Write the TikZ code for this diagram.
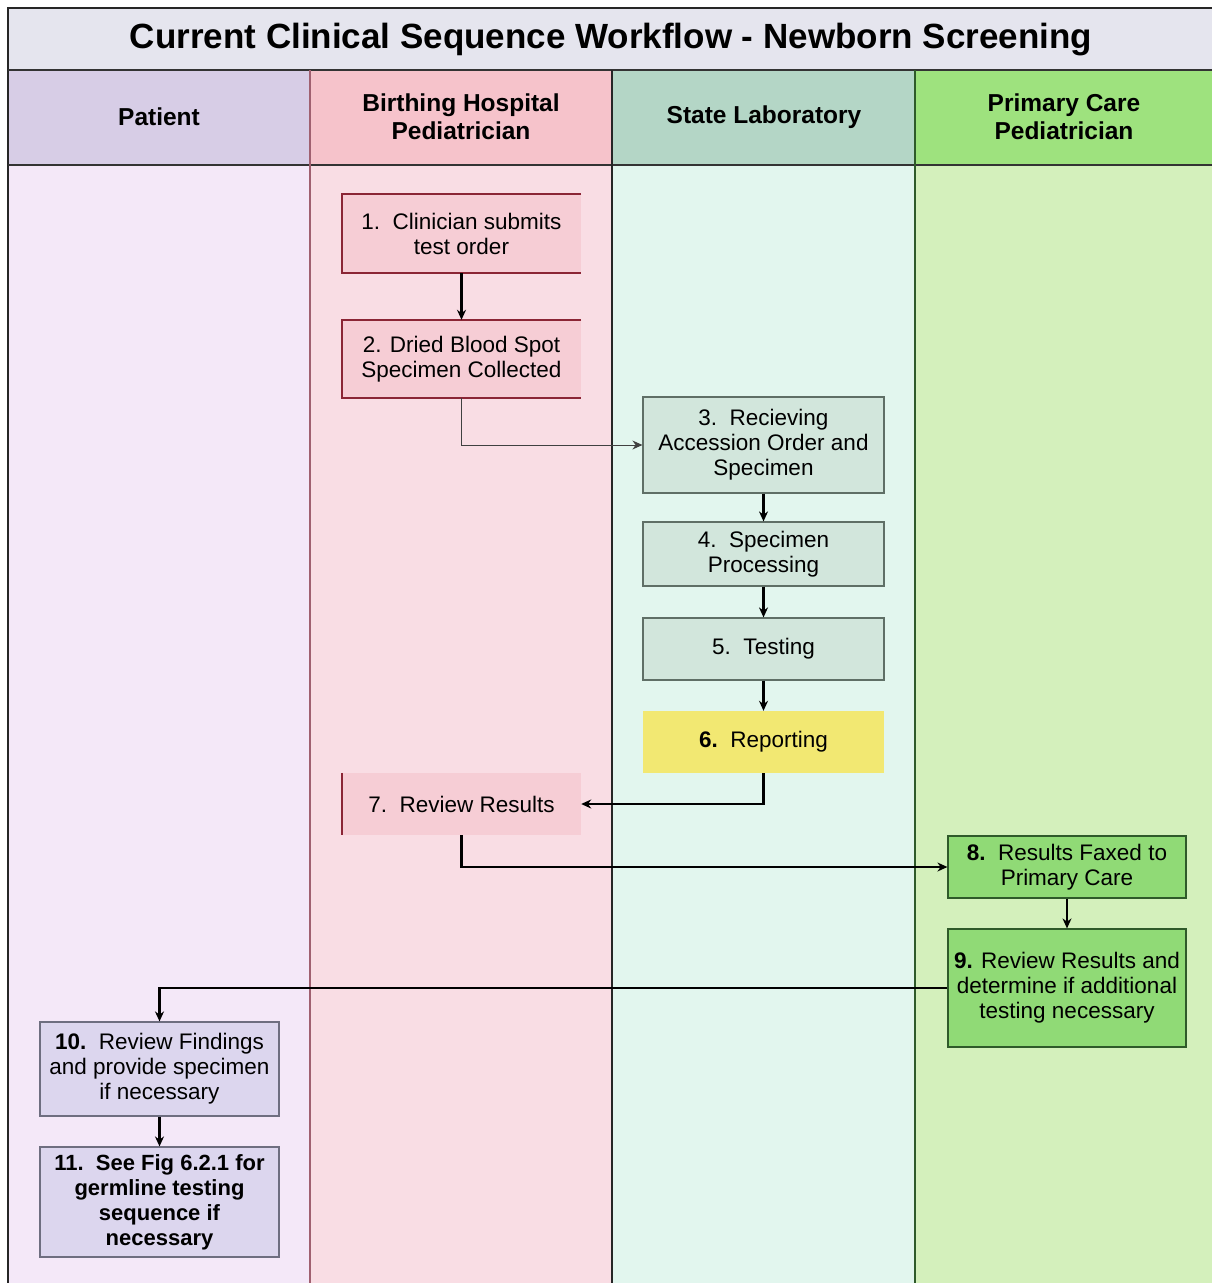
\documentclass[tikz,border=0pt]{standalone}
\usepackage{fontspec}
\setmainfont{Liberation Sans}
\usetikzlibrary{arrows.meta}

% lane and box colours
\definecolor{titlebg}{HTML}{E5E5EE}
\definecolor{patHead}{HTML}{D7CDE6}
\definecolor{patBody}{HTML}{F4E8F8}
\definecolor{hospHead}{HTML}{F6C3CB}
\definecolor{hospBody}{HTML}{F9DDE4}
\definecolor{labHead}{HTML}{B4D6C6}
\definecolor{labBody}{HTML}{E2F6EE}
\definecolor{pcpHead}{HTML}{9EE27E}
\definecolor{pcpBody}{HTML}{D4F0BC}
\definecolor{hospBox}{HTML}{F6CDD5}
\definecolor{hospLine}{HTML}{8B2535}
\definecolor{labBox}{HTML}{D2E6DC}
\definecolor{labLine}{HTML}{5F6F66}
\definecolor{repBox}{HTML}{F2E872}
\definecolor{pcpBox}{HTML}{90DA76}
\definecolor{pcpLine}{HTML}{2F5A2A}
\definecolor{patBox}{HTML}{DCD6EE}
\definecolor{patLine}{HTML}{6E6E80}
\definecolor{sepHosp}{HTML}{A06070}

\tikzset{
  stepbox/.style={minimum width=239pt, inner sep=2pt, align=center,
    font=\fontsize{22.5}{25}\selectfont},
  hospnode/.style={stepbox, fill=hospBox},
  labnode/.style={stepbox, fill=labBox, draw=labLine, line width=1.2pt},
  repnode/.style={stepbox, fill=repBox},
  pcpnode/.style={stepbox, fill=pcpBox, draw=pcpLine, line width=1.2pt},
  patnode/.style={stepbox, fill=patBox, draw=patLine, line width=1.2pt},
  flow/.style={draw=black, line width=2.2pt, -{Stealth[length=10pt,width=9pt]}},
  thinflow/.style={draw=black!75, line width=1pt, -{Stealth[length=10pt,width=9pt]}},
  lanehead/.style={font=\fontsize{24.5}{28}\selectfont\bfseries, align=center},
}

\begin{document}
\begin{tikzpicture}[x=1pt,y=-1pt]
\useasboundingbox (0,0) rectangle (1212,1283);
\fill[white] (0,0) rectangle (1212,1283);

% title band
\fill[titlebg] (8,8) rectangle (1212,70);
\node[font=\fontsize{35}{40}\selectfont\bfseries] (title) at (611,40)
  {Current Clinical Sequence Workflow - Newborn Screening};

% lane bodies
\fill[patBody]  (8,165)   rectangle (310,1283);
\fill[hospBody] (310,165) rectangle (612,1283);
\fill[labBody]  (612,165) rectangle (915,1283);
\fill[pcpBody]  (915,165) rectangle (1212,1283);

% lane headers
\fill[patHead]  (8,70)   rectangle (310,165);
\fill[hospHead] (310,70) rectangle (612,165);
\fill[labHead]  (612,70) rectangle (915,165);
\fill[pcpHead]  (915,70) rectangle (1212,165);

\node[lanehead] (hPat)  at (159,117) {Patient};
\node[lanehead] (hHosp) at (461,117) {Birthing Hospital\\Pediatrician};
\node[lanehead] (hLab)  at (764,117) {State Laboratory};
\node[lanehead] (hPcp)  at (1064,117) {Primary Care\\Pediatrician};

% frame and lane separators
\draw[line width=2pt, black!85] (1212,8) -- (8,8) -- (8,1283);
\draw[line width=2.5pt, black!80] (8,70) -- (1212,70);
\draw[line width=2.5pt, black!80] (8,165) -- (1212,165);
\draw[line width=2.5pt, sepHosp] (310,70) -- (310,1283);
\draw[line width=2pt, black!85] (612,70) -- (612,1283);
\draw[line width=2pt, pcpLine] (915,70) -- (915,1283);

% steps
\node[hospnode, minimum height=79pt] (n1) at (461.5,233.5)
  {1.~~Clinician submits\\test order};
\node[hospnode, minimum height=78pt] (n2) at (461.5,359)
  {2. Dried Blood Spot\\Specimen Collected};
\node[labnode, minimum width=241pt, minimum height=96pt] (n3) at (763.5,445)
  {3.~~Recieving\\Accession Order and\\Specimen};
\node[labnode, minimum width=241pt, minimum height=64pt] (n4) at (763.5,554)
  {4.~~Specimen\\Processing};
\node[labnode, minimum width=241pt, minimum height=62pt] (n5) at (763.5,649)
  {5.~~Testing};
\node[repnode, minimum width=241pt, minimum height=62pt] (n6) at (763.5,742)
  {\textbf{6.}~~Reporting};
\node[hospnode, minimum height=62pt] (n7) at (461.5,804)
  {7.~~Review Results};
\node[pcpnode, minimum width=238pt, minimum height=62pt] (n8) at (1067,867)
  {\textbf{8.}~~Results Faxed to\\Primary Care};
\node[pcpnode, minimum width=238pt, minimum height=118pt] (n9) at (1067,988)
  {\textbf{9.} Review Results and\\determine if additional\\testing necessary};
\node[patnode, minimum height=94pt] (n10) at (159.5,1069)
  {\textbf{10.}~~Review Findings\\and provide specimen\\if necessary};
\node[patnode, minimum height=110pt, font=\fontsize{22}{25}\selectfont\bfseries] (n11) at (159.5,1202)
  {11.~~See Fig 6.2.1 for\\germline testing\\sequence if\\necessary};

% open-sided outlines of the hospital steps
\draw[hospLine, line width=1.5pt] (n1.north east) -- (n1.north west) -- (n1.south west) -- (n1.south east);
\draw[hospLine, line width=1.5pt] (n2.north east) -- (n2.north west) -- (n2.south west) -- (n2.south east);
\draw[hospLine, line width=1.5pt] (n7.north west) -- (n7.south west);

% connectors
\draw[flow] (n1) -- (n2);
\draw[thinflow] (n2.south) |- (n3.west);
\draw[flow] (n3) -- (n4);
\draw[flow] (n4) -- (n5);
\draw[flow] (n5) -- (n6);
\draw[flow] (n6.south) |- (n7.east);
\draw[flow] (n7.south) |- (n8.west);
\draw[flow] (n8) -- (n9);
\draw[flow] (n9.west) -| (n10.north);
\draw[flow] (n10) -- (n11);
\end{tikzpicture}
\end{document}
